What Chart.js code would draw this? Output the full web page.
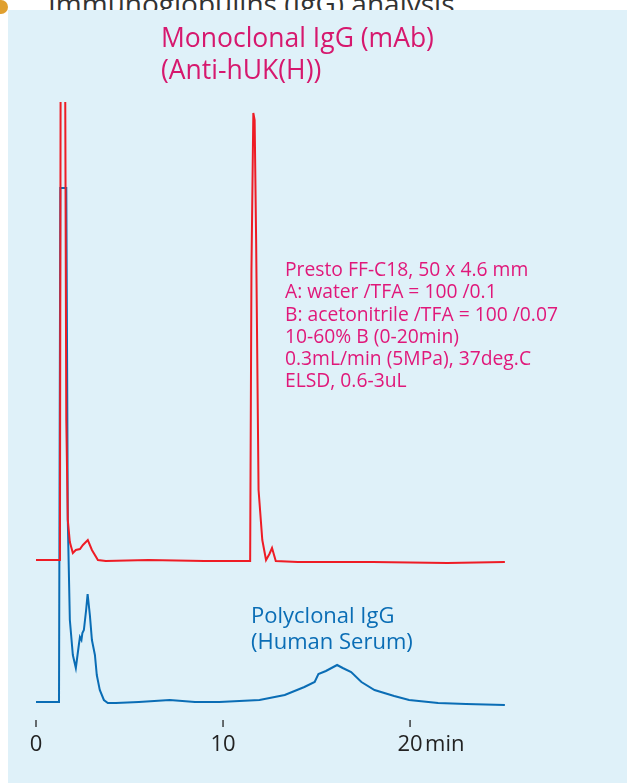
<!DOCTYPE html>
<html>
<head>
<meta charset="utf-8">
<script src="https://cdn.jsdelivr.net/npm/chart.js@4"></script>
<style>
  body { margin:0; width:627px; height:783px; background:#fff; overflow:hidden; position:relative; font-family:"Open Sans", sans-serif; }
  #panel { position:absolute; left:8px; top:10px; width:619px; height:773px; background:#dff1f9; }
  #head { position:absolute; left:0; top:-16px; font-size:28px; color:#333; white-space:nowrap; }
  #head span { display:inline-block; width:14px; height:14px; border-radius:7px; background:#e0a030; margin:0 40px 0 -6px; }
  canvas { position:absolute; left:0; top:0; }
  .t { position:absolute; white-space:nowrap; }
</style>
</head>
<body>
<div id="head"><span></span>Immunoglobulins (IgG) analysis</div>
<div id="panel"></div>
<canvas id="c" width="627" height="783"></canvas>
<div class="t" style="left:161px;top:21px;font-size:26.5px;line-height:32px;color:#d6186e">Monoclonal IgG (mAb)<br>(Anti-hUK(H))</div>
<div class="t" style="left:285px;top:258px;font-size:19.3px;line-height:22.3px;color:#e0187a">Presto FF-C18, 50 x 4.6 mm<br>A: water /TFA = 100 /0.1<br>B: acetonitrile /TFA = 100 /0.07<br>10-60% B (0-20min)<br>0.3mL/min (5MPa), 37deg.C<br>ELSD, 0.6-3uL</div>
<div class="t" style="left:251px;top:601px;font-size:22px;line-height:26px;color:#0a6db5">Polyclonal IgG<br>(Human Serum)</div>
<script>
// retention time (min) and detector response (arbitrary height units)
const redTime = [0, 1.28, 1.32, 1.55, 1.62, 1.7, 1.81, 1.97, 2.13, 2.35, 2.51, 2.77, 2.99, 3.31, 3.73, 6, 9, 11.45, 11.52, 11.62, 11.69, 11.77, 11.9, 12.1, 12.3, 12.48, 12.62, 12.82, 14, 18, 22, 25.07];
const redSignal = [160, 160, 700, 700, 300, 200, 178, 167, 170, 171, 175, 180, 170, 160, 159, 160, 159, 159, 450, 607, 600, 480, 230, 180, 160, 166, 172, 159, 158, 158, 157, 158];

const blueTime = [0, 1.23, 1.3, 1.62, 1.7, 1.81, 1.97, 2.13, 2.29, 2.35, 2.43, 2.48, 2.56, 2.68, 2.76, 2.88, 2.99, 3.15, 3.25, 3.41, 3.63, 3.84, 4.27, 5.5, 7.15, 8.5, 9.8, 11.95, 13.3, 14.35, 14.9, 15.1, 15.5, 15.8, 16.1, 16.4, 16.85, 17.4, 18.1, 19.15, 19.95, 21.5, 23, 25.07];
const blueSignal = [18, 18, 532, 532, 200, 100, 65, 52, 75, 83, 80, 87, 90, 110, 126, 105, 80, 65, 45, 30, 20, 17, 17, 18, 20, 18, 18, 20, 25, 33, 38, 46, 49, 52, 55, 52, 48, 38, 30, 24, 20, 17, 16, 15];

const xTicks = [0, 10, 20];
const xTickLabels = ['0', '10', '20'];

const toXY = (t, v) => t.map((x, i) => ({x: x, y: v[i]}));

const tickPlugin = {
  id: 'ticks',
  afterDraw(chart) {
    const ctx = chart.ctx, xs = chart.scales.x, base = chart.chartArea.bottom;
    ctx.save();
    ctx.strokeStyle = '#222'; ctx.lineWidth = 1.3;
    ctx.fillStyle = '#222'; ctx.font = '22px "Open Sans", sans-serif';
    ctx.textAlign = 'center'; ctx.textBaseline = 'middle';
    xTicks.forEach((t, i) => {
      const px = xs.getPixelForValue(t);
      ctx.beginPath(); ctx.moveTo(px, base); ctx.lineTo(px, base + 7); ctx.stroke();
      ctx.fillText(xTickLabels[i], px, base + 25);
    });
    ctx.textAlign = 'left';
    ctx.fillText('min', xs.getPixelForValue(20) + 15, base + 25);
    ctx.restore();
  }
};

new Chart(document.getElementById('c'), {
  type: 'line',
  data: {
    datasets: [
      { data: toXY(redTime, redSignal), borderColor: '#ee1c25', borderWidth: 2, pointRadius: 0, tension: 0 },
      { data: toXY(blueTime, blueSignal), borderColor: '#0a6db5', borderWidth: 2, pointRadius: 0, tension: 0 }
    ]
  },
  options: {
    responsive: false,
    animation: false,
    layout: { padding: { left: 36, right: 121, top: 102, bottom: 63 } },
    plugins: { legend: { display: false }, tooltip: { enabled: false } },
    scales: {
      x: { type: 'linear', min: 0, max: 25.13, display: false },
      y: { min: 0, max: 618, display: false }
    }
  },
  plugins: [tickPlugin]
});
</script>
</body>
</html>
